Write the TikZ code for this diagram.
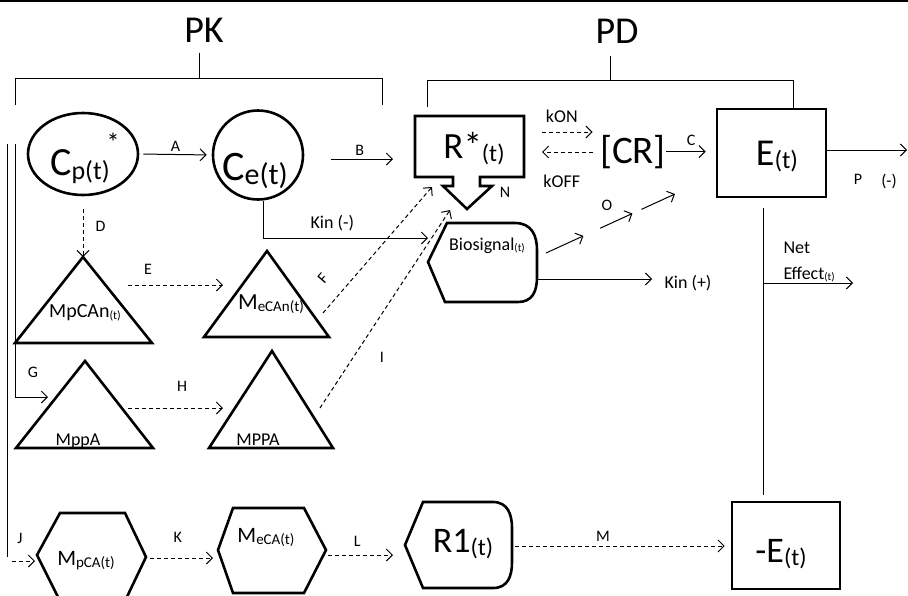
\documentclass[tikz,border=0pt]{standalone}
\usepackage{fontspec}
\setmainfont{Carlito}
\usetikzlibrary{arrows.meta,shapes.geometric,calc}

% lowered, smaller text for the (t) subscripts
\newcommand{\sbx}[2]{\raisebox{-0.1em}{\fontsize{#1}{#1}\selectfont #2}}

\tikzset{
  big/.style={font=\fontsize{#1}{#1}\selectfont, inner sep=0pt},
  lbl/.style={big=16},
  txt/.style={big=18},
  outline/.style={line width=2.6pt, line join=miter},
  ring/.style={ellipse, draw, line width=2.6pt, inner sep=0pt},
  box/.style={rectangle, draw, line width=2.6pt, inner sep=0pt},
  flow/.style={line width=1pt, -{Straight Barb[length=6pt,width=12pt]}},
  dflow/.style={flow, dash pattern=on 4pt off 3pt},
}

\begin{document}
\begin{tikzpicture}[x=1pt, y=-1pt, line width=1pt]
    \useasboundingbox (0,0) rectangle (908,595);

    % Rule along the top edge
    \draw[line width=2pt] (0,1) -- (908,1);

    % PK and PD headings with their brackets
    \node[big=38, anchor=base] (pk) at (204,42) {PK};
    \node[big=38, anchor=base] (pd) at (617,43) {PD};
    \draw ([xshift=-5pt,yshift=-10pt]pk.south) -- ++(0,26);
    \draw (15,105) -- (15,78) -- (382,78) -- (382,105);
    \draw ([xshift=-7pt,yshift=-12pt]pd.south) -- ++(0,25);
    \draw (427,107) -- (427,80) -- (793,80) -- (793,108);

    % Plasma and effect-site concentrations
    \node[ring, minimum width=110pt, minimum height=82pt] (cp) at (83,154) {};
    \node[big=40, anchor=base] (cptxt) at (80,175) {C\sbx{26}{p(t)}};
    \node[big=26, anchor=base] (cpstar) at (113,151) {*};
    \node[ring, minimum width=90pt, minimum height=89pt] (ce) at (258,155) {};
    \node[big=42, anchor=base] (cetxt) at (255,180) {C\sbx{30}{e(t)}};

    % Receptor box with its arrow, complex and effect
    \node[minimum width=109pt, minimum height=61pt, inner sep=0pt, outer sep=0pt] (rstar) at (469.5,146.5) {};
    \draw[outline] (rstar.south west) -- (rstar.north west) -- (rstar.north east) -- (rstar.south east)
        -- ++(-44,0) -- ++(0,9) -- ++(12,0) -- ++(-25,23) -- ++(-24,-23) -- ++(10,0) -- ++(0,-9) -- cycle;
    \node[big=37, anchor=base] (rtxt) at (474,158) {R*\sbx{24}{(t)}};
    \node[lbl, anchor=base] (nlbl) at (505,197) {N};
    \node[big=39, anchor=base] (cr) at (633,163) {[CR]};
    \node[box, minimum width=109pt, minimum height=88pt] (ebox) at (771.5,153) {};
    \node[big=38, anchor=base] (etxt) at (777,165) {E\sbx{25}{(t)}};

    % Biosignal
    \draw[outline] (428,262) -- (447,223) -- (515,223) .. controls (532,223) and (537,236) .. (537,250)
        -- (537,277) .. controls (537,292) and (532,302) .. (518,302) -- (445,302) -- cycle;
    \node[txt, anchor=base] (bio) at (487,250) {Biosignal\sbx{11}{(t)}};

    % Metabolite triangles
    \coordinate (mpcan) at (83,257);
    \coordinate (mecan) at (267,251);
    \coordinate (mppa) at (85,361);
    \coordinate (mPPA) at (272,351);
    \draw[outline] (mpcan) -- ++(69,86) -- ++(-137,0) -- cycle;
    \draw[outline] (mecan) -- ++(62,86) -- ++(-125,0) -- cycle;
    \draw[outline] (mppa) -- ++(68,87) -- ++(-137,0) -- cycle;
    \draw[outline] (mPPA) -- ++(61,97) -- ++(-124,0) -- cycle;
    \node[big=20, anchor=base] (mpcantxt) at (85,317) {MpCAn\sbx{12}{(t)}};
    \node[big=23, anchor=base] (mecantxt) at (271,309) {M\sbx{15}{eCAn(t)}};
    \node[big=18, anchor=base] (mppatxt) at (78,445) {MppA};
    \node[big=18, anchor=base] (mPPAtxt) at (258,445) {MPPA};

    % Bottom row: hexagons, R1 and the negative effect
    \coordinate (mpca) at (37,555);
    \coordinate (meca) at (218,550);
    \coordinate (r1) at (405,545);
    \draw[outline] (mpca) -- ++(23,-42) -- ++(65,0) -- ++(21,44) -- ++(-21,44) -- ++(-65,0) -- cycle;
    \draw[outline] (meca) -- ++(15,-42) -- ++(71,0) -- ++(22,42) -- ++(-22,43) -- ++(-71,0) -- cycle;
    \draw[outline] (r1) -- (423,502) -- (493,502) .. controls (508,502) and (512,515) .. (512,528)
        -- (512,562) .. controls (512,576) and (508,588) .. (493,588) -- (423,588) -- cycle;
    \node[big=22, anchor=base] (mpcatxt) at (86,565) {M\sbx{15}{pCA(t)}};
    \node[big=22, anchor=base] (mecatxt) at (266,542) {M\sbx{15}{eCA(t)}};
    \node[big=36, anchor=base] (r1txt) at (463,552) {R1\sbx{24}{(t)}};
    \node[box, minimum width=108pt, minimum height=87pt] (nebox) at (786,545.5) {};
    \node[big=36, anchor=base] (netxt) at (781,562) {-E\sbx{24}{(t)}};

    % Solid arrows
    \draw[flow, shorten <=4pt, shorten >=5pt] (cp.east) -- (ce.west) node[lbl, midway, above=3pt] {A};
    \draw[flow, shorten <=27pt, shorten >=22pt] ([yshift=-4pt]ce.east) -- ([yshift=-4pt]ce.east -| rstar.west)
        node[lbl, midway, above=3pt] {B};
    \draw[flow, shorten >=10pt] (cr.east) -- (cr.east -| ebox.west) node[lbl, midway, above=5pt] {C};
    \coordinate (pout) at (907,150);
    \draw[flow] ([yshift=3pt]ebox.east) -- (pout);
    \node[lbl, anchor=base] (plbl) at (858,184) {P};
    \node[big=17, anchor=base] (pneg) at (889,186) {(-)};
    \coordinate (kinm) at (428,238);
    \draw[flow] ([xshift=5pt]ce.south) |- (kinm) node[txt, pos=0.71, above=7pt] {Kin (-)};
    \coordinate (bioout) at (538,279);
    \node[txt, anchor=base] (kinp) at (688,288) {Kin (+)};
    \draw[flow, shorten >=12pt] (bioout) -- (bioout -| kinp.west);

    % Binding and release
    \draw[dflow, shorten <=18pt, shorten >=7pt] ([yshift=14.5pt]rstar.east) -- ([yshift=14.5pt]rstar.east -| cr.west)
        node[txt, midway, above=9pt] {kON};
    \draw[dflow, shorten <=7pt, shorten >=18pt] ([yshift=-5.5pt]rstar.east -| cr.west) -- ([yshift=-5.5pt]rstar.east)
        node[txt, midway, below=22pt] {kOFF};

    % Biosignal towards the complex
    \coordinate (o1) at (546,253);
    \coordinate (o2) at (675,194);
    \draw[flow] (o1) -- ($(o1)!0.29!(o2)$);
    \draw[flow] ($(o1)!0.42!(o2)$) -- ($(o1)!0.67!(o2)$);
    \draw[flow] ($(o1)!0.74!(o2)$) -- (o2);
    \node[lbl, anchor=base] (olbl) at (607,210) {O};

    % Metabolite routes
    \draw[dflow, shorten <=13pt] (cp.south) -- (mpcan) node[lbl, midway, right=12pt] {D};
    \draw[dflow] ($(mpcan)+(45,28)$) -- ($(mecan)+(-44,34)$) node[lbl, pos=0.21, above=10pt] {E};
    \draw[dflow] ($(mecan)+(56,62)$) -- ($(rstar.south west)+(17,10)$);
    \node[lbl, rotate=49] (flbl) at (323,278) {F};
    \coordinate (g0) at (15,144);
    \draw[flow] (g0) |- ($(mppa)+(-37,36)$);
    \node[lbl, anchor=base] (glbl) at (33,377) {G};
    \draw[dflow] ($(mppa)+(43,47)$) -- ($(mPPA)+(-49,57)$) node[lbl, pos=0.57, above=16pt] {H};
    \draw[dflow] ($(mPPA)+(48,57)$) -- ($(rstar.south west)+(35,33)$);
    \node[lbl, anchor=base] (ilbl) at (382,362) {I};

    % Bottom chain
    \coordinate (j0) at (7,144);
    \coordinate (j1) at (7,557);
    \draw (j0) -- (j1);
    \draw[dflow] ($(j1)+(5,4)$) -- ($(mpca)+(-2,6)$);
    \node[lbl, anchor=base] (jlbl) at (20,543) {J};
    \draw[dflow] ($(mpca)+(113,3)$) -- ($(meca)+(-5,8)$) node[lbl, pos=0.44, above=15pt] {K};
    \draw[dflow] ($(meca)+(110,5)$) -- ($(r1)+(-12,10)$) node[lbl, pos=0.45, above=8pt] {L};
    \draw[dflow] ($(r1)+(110,1)$) -- ($(nebox.west)+(-6,0.5)$) node[lbl, pos=0.42, above=4pt] {M};

    % Net effect line
    \draw ([xshift=-8.5pt,yshift=-10pt]ebox.south) -- ([xshift=-23pt,yshift=6pt]nebox.north);
    \coordinate (nf) at (763,283);
    \coordinate (nfend) at (853,283);
    \draw[flow] (nf) -- (nfend);
    \node[txt, anchor=base west] (net) at (783,253) {Net};
    \node[txt, anchor=base west] (eff) at (783,279) {Effect\sbx{11}{(t)}};

\end{tikzpicture}
\end{document}
